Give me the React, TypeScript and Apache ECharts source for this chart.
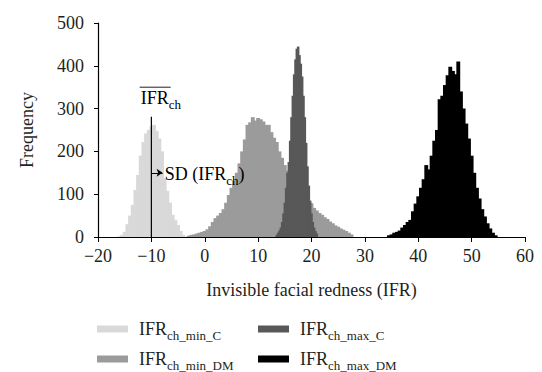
import React, { useEffect, useRef } from "react";
import * as echarts from "echarts";

const FONT = '"Liberation Serif", "DejaVu Serif", serif';
const TEXT = "#231f20";

// Series identity
const seriesNames = ["IFRch_min_C", "IFRch_min_DM", "IFRch_max_C", "IFRch_max_DM"];
const seriesSubs = ["ch_min_C", "ch_min_DM", "ch_max_C", "ch_max_DM"];
const seriesColors = ["#d9d9d9", "#9b9b9b", "#585858", "#000000"];

// IFRch_min_C histogram (bin centres, counts)
const minCWidth = 0.5;
const minCBins = [-16, -15.5, -15, -14.5, -14, -13.5, -13, -12.5, -12, -11.5, -11, -10.5, -10, -9.5, -9, -8.5, -8, -7.5, -7, -6.5, -6, -5.5, -5, -4.5, -4];
const minCCounts = [2, 5, 12, 30, 50, 75, 110, 145, 190, 222, 242, 250, 258, 262, 248, 230, 200, 138, 108, 80, 52, 40, 28, 14, 5];

// IFRch_min_DM histogram
const minDMWidth = 0.5;
const minDMBins = [-3, -2.5, -2, -1.5, -1, -0.5, 0, 0.5, 1, 1.5, 2, 2.5, 3, 3.5, 4, 4.5, 5, 5.5, 6, 6.5, 7, 7.5, 8, 8.5, 9, 9.5, 10, 10.5, 11, 11.5, 12, 12.5, 13, 13.5, 14, 14.5, 15, 15.5, 16, 16.5, 17, 17.5, 18, 18.5, 19, 19.5, 20, 20.5, 21, 21.5, 22, 22.5, 23, 23.5, 24, 24.5, 25, 25.5, 26, 26.5, 27, 27.5];
const minDMCounts = [3, 5, 6, 8, 10, 12, 14, 18, 25, 35, 44, 50, 56, 65, 80, 98, 115, 132, 150, 172, 200, 228, 262, 268, 280, 272, 278, 275, 270, 262, 262, 245, 232, 222, 200, 185, 168, 155, 140, 128, 118, 108, 100, 92, 86, 80, 79, 68, 62, 56, 52, 46, 42, 36, 32, 27, 24, 20, 17, 14, 10, 6];

// IFRch_max_C histogram
const maxCWidth = 0.25;
const maxCBins = [13.5, 13.75, 14, 14.25, 14.5, 14.75, 15, 15.25, 15.5, 15.75, 16, 16.25, 16.5, 16.75, 17, 17.25, 17.5, 17.75, 18, 18.25, 18.5, 18.75, 19, 19.25, 19.5, 19.75, 20, 20.25, 20.5, 20.75, 21];
const maxCCounts = [5, 10, 15, 22, 35, 55, 80, 115, 150, 175, 225, 280, 330, 380, 415, 440, 445, 425, 405, 375, 330, 280, 220, 165, 120, 85, 55, 35, 22, 14, 8];

// IFRch_max_DM histogram
const maxDMWidth = 0.5;
const maxDMBins = [34.5, 35, 35.5, 36, 36.5, 37, 37.5, 38, 38.5, 39, 39.5, 40, 40.5, 41, 41.5, 42, 42.5, 43, 43.5, 44, 44.5, 45, 45.5, 46, 46.5, 47, 47.5, 48, 48.5, 49, 49.5, 50, 50.5, 51, 51.5, 52, 52.5, 53, 53.5, 54, 54.5];
const maxDMCounts = [4, 6, 10, 12, 15, 22, 28, 35, 40, 60, 78, 95, 115, 135, 168, 158, 190, 225, 250, 322, 330, 355, 378, 398, 388, 380, 410, 340, 300, 265, 230, 190, 150, 115, 90, 65, 48, 32, 20, 10, 4];

// Axes
const xMin = -20, xMax = 60, xInterval = 10;
const yMin = 0, yMax = 500, yInterval = 100;
const xTitle = "Invisible facial redness (IFR)";
const yTitle = "Frequency";

// Annotations (data coordinates)
const meanLineX = [-10, -10];
const meanLineY = [0, 281];
const meanLabelPos = [-12, 329];
const sdArrowFrom = [-10, 150];
const sdArrowTo = [-7.9, 150];
const sdLabelPos = [-7.5, 151];

const histograms = [
  { bins: minCBins, counts: minCCounts, width: minCWidth },
  { bins: minDMBins, counts: minDMCounts, width: minDMWidth },
  { bins: maxCBins, counts: maxCCounts, width: maxCWidth },
  { bins: maxDMBins, counts: maxDMCounts, width: maxDMWidth },
];

const rich = {
  a: { fontSize: 18, fontFamily: FONT, color: TEXT, lineHeight: 18, verticalAlign: "top" as const },
  s: { fontSize: 13, fontFamily: FONT, color: TEXT, lineHeight: 13, verticalAlign: "top" as const, padding: [9, 0, 0, 0] },
  l: { fontSize: 18, fontFamily: FONT, color: TEXT, lineHeight: 18, verticalAlign: "top" as const, padding: [0, 0, 0, 6] },
};

const fmtTick = (v: number) => (v < 0 ? "\u2212" + Math.abs(v) : String(v));

export default function App() {
  const ref = useRef<HTMLDivElement>(null);

  useEffect(() => {
    if (!ref.current) return;
    const chart = echarts.init(ref.current, undefined, { renderer: "svg" });

    const custom = histograms.map((h, i) => ({
      type: "custom" as const,
      name: seriesNames[i],
      coordinateSystem: "cartesian2d",
      itemStyle: { color: seriesColors[i] },
      encode: { x: 0, y: 1 },
      data: h.bins.map((b, j) => [b, h.counts[j], h.width]),
      renderItem: (_params: any, api: any) => {
        const x = api.value(0) as number;
        const y = api.value(1) as number;
        const w = api.value(2) as number;
        const tl = api.coord([x - w / 2, y]);
        const br = api.coord([x + w / 2, 0]);
        return {
          type: "rect",
          shape: { x: tl[0] - 0.6, y: tl[1], width: br[0] - tl[0] + 1.2, height: br[1] - tl[1] },
          style: { fill: seriesColors[i] },
        };
      },
    }));

    const legendBase = {
      orient: "vertical" as const,
      top: 320,
      padding: 0,
      itemGap: 8,
      itemWidth: 31,
      itemHeight: 7,
      icon: "rect",
      selectedMode: false,
      formatter: (name: string) => `{l|IFR}{s|${seriesSubs[seriesNames.indexOf(name)]}}`,
      textStyle: { fontFamily: FONT, fontSize: 18, color: TEXT, rich },
    };

    chart.setOption({
      animation: false,
      grid: { left: 98, right: 17, top: 23, bottom: 135 },
      legend: [
        { ...legendBase, left: 97, data: [seriesNames[0], seriesNames[1]] },
        { ...legendBase, left: 258, data: [seriesNames[2], seriesNames[3]] },
      ],
      xAxis: {
        type: "value",
        min: xMin,
        max: xMax,
        interval: xInterval,
        name: xTitle,
        nameLocation: "middle",
        nameGap: 44,
        nameTextStyle: { fontFamily: FONT, fontSize: 18, color: TEXT },
        axisLine: { show: true, onZero: false, lineStyle: { color: "#000000", width: 1 } },
        axisTick: { show: true, length: 5, lineStyle: { color: "#000000", width: 1 } },
        axisLabel: { fontFamily: FONT, fontSize: 18, color: TEXT, margin: 10, formatter: fmtTick },
        splitLine: { show: false },
      },
      yAxis: {
        type: "value",
        min: yMin,
        max: yMax,
        interval: yInterval,
        name: yTitle,
        nameLocation: "middle",
        nameGap: 62,
        nameTextStyle: { fontFamily: FONT, fontSize: 18, color: TEXT },
        axisLine: { show: true, onZero: false, lineStyle: { color: "#000000", width: 1.2 } },
        axisTick: { show: true, length: 4, lineStyle: { color: "#000000", width: 1 } },
        axisLabel: { fontFamily: FONT, fontSize: 18, color: TEXT, margin: 14 },
        splitLine: { show: false },
      },
      series: [
        ...custom,
        {
          type: "line",
          name: "mean",
          data: [
            [meanLineX[0], meanLineY[0]],
            [meanLineX[1], meanLineY[1]],
          ],
          showSymbol: false,
          symbol: "none",
          lineStyle: { color: "#000", width: 1.2 },
          z: 5,
          silent: true,
          markLine: {
            silent: true,
            symbol: ["none", "arrow"],
            symbolSize: 6,
            label: { show: false },
            lineStyle: { color: "#000", width: 1, type: "solid" },
            data: [[{ coord: sdArrowFrom }, { coord: sdArrowTo }]],
          },
        },
      ],
    });

    const pMean = chart.convertToPixel({ gridIndex: 0 }, meanLabelPos) as number[];
    const pSd = chart.convertToPixel({ gridIndex: 0 }, sdLabelPos) as number[];

    chart.setOption({
      graphic: [
        {
          type: "text",
          x: pMean[0],
          y: pMean[1] + 2,
          style: { text: "{a|IFR}{s|ch}", rich, align: "left", verticalAlign: "middle" },
          z: 10,
        },
        {
          type: "line",
          shape: { x1: pMean[0] - 1, y1: pMean[1] - 9, x2: pMean[0] + 30, y2: pMean[1] - 9 },
          style: { stroke: TEXT, lineWidth: 1 },
          z: 10,
        },
        {
          type: "text",
          x: pSd[0],
          y: pSd[1] + 2,
          style: { text: "{a|SD (IFR}{s|ch}{a|)}", rich, align: "left", verticalAlign: "middle" },
          z: 10,
        },
      ],
    });

    return () => chart.dispose();
  }, []);

  return (
    <div
      ref={ref}
      style={{ position: "fixed", left: 0, top: 0, width: 542, height: 372, background: "#fff" }}
    />
  );
}
